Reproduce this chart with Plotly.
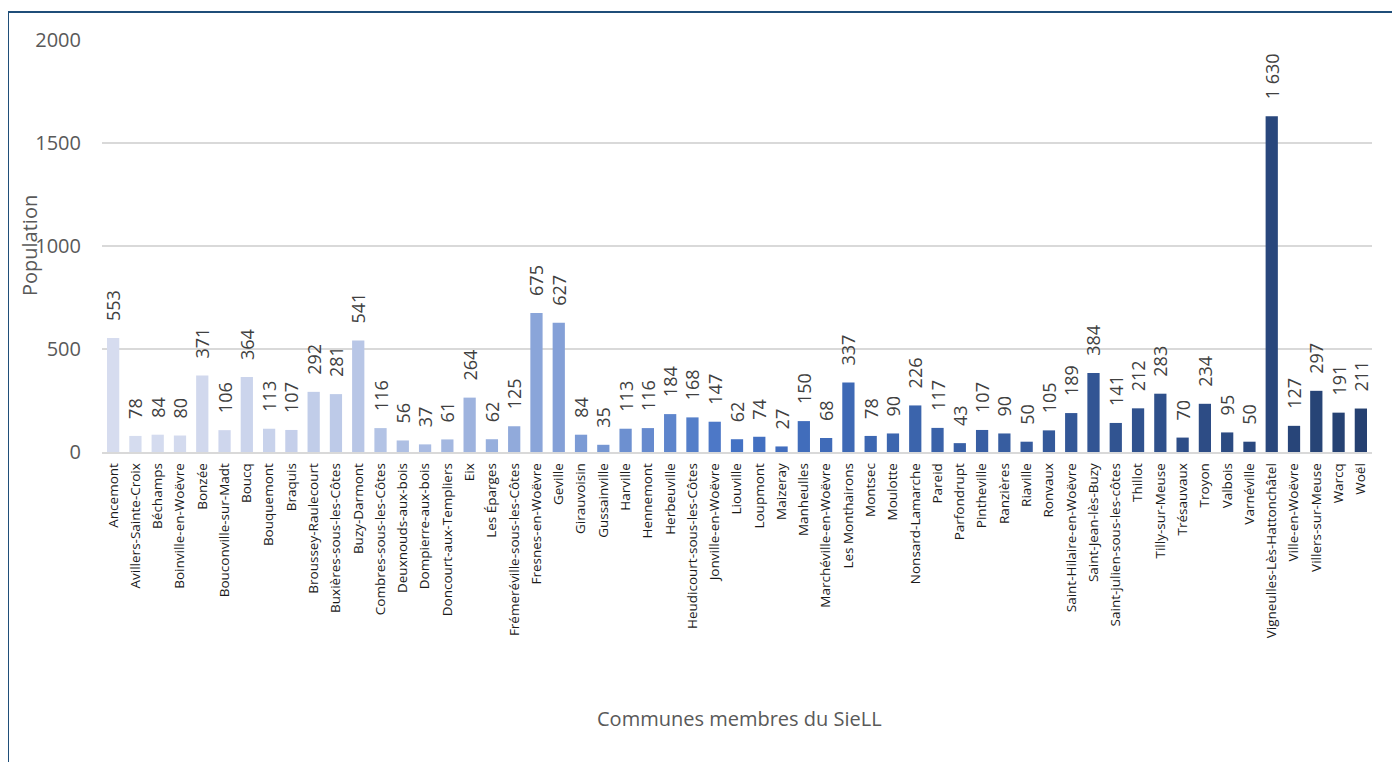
import numpy as np
import plotly.graph_objects as go

communes = [
    "Ancemont", "Avillers-Sainte-Croix", "Béchamps", "Boinville-en-Woëvre", "Bonzée",
    "Bouconville-sur-Madt", "Boucq", "Bouquemont", "Braquis", "Broussey-Raulecourt",
    "Buxières-sous-les-Côtes", "Buzy-Darmont", "Combres-sous-les-Côtes", "Deuxnouds-aux-bois",
    "Dompierre-aux-bois", "Doncourt-aux-Templiers", "Eix", "Les Éparges",
    "Frémeréville-sous-les-Côtes", "Fresnes-en-Woëvre", "Geville", "Girauvoisin",
    "Gussainville", "Harville", "Hennemont", "Herbeuville", "Heudicourt-sous-les-Côtes",
    "Jonville-en-Woëvre", "Liouville", "Loupmont", "Maizeray", "Manheulles",
    "Marchéville-en-Woëvre", "Les Monthairons", "Montsec", "Moulotte", "Nonsard-Lamarche",
    "Pareid", "Parfondrupt", "Pintheville", "Ranzières", "Riaville", "Ronvaux",
    "Saint-Hilaire-en-Woëvre", "Saint-Jean-lès-Buzy", "Saint-julien-sous-les-côtes",
    "Thillot", "Tilly-sur-Meuse", "Trésauvaux", "Troyon", "Valbois", "Varnéville",
    "Vigneulles-Lès-Hattonchâtel", "Ville-en-Woëvre", "Villers-sur-Meuse", "Warcq", "Woël",
]
population = [
    553, 78, 84, 80, 371, 106, 364, 113, 107, 292,
    281, 541, 116, 56, 37, 61, 264, 62, 125, 675,
    627, 84, 35, 113, 116, 184, 168, 147, 62, 74,
    27, 150, 68, 337, 78, 90, 226, 117, 43, 107,
    90, 50, 105, 189, 384, 141, 212, 283, 70, 234,
    95, 50, 1630, 127, 297, 191, 211,
]
y_ticks = [0, 500, 1000, 1500, 2000]

def fmt(v):
    return f"{v:,}".replace(",", "\u00a0")

# leading non-breaking spaces give the gap between bar top and rotated label
labels = ["\u00a0\u00a0\u00a0" + fmt(v) for v in population]

# gradient colours (light -> mid blue -> dark navy), as Excel "vary colours by point"
light = np.array([214, 220, 239])
mid = np.array([68, 114, 196])
dark = np.array([37, 64, 112])
n = len(communes)
colors = []
half = (n - 1) / 2
for i in range(n):
    if i <= half:
        t = (i / half) ** 1.7
        c = light + (mid - light) * t
    else:
        t = (i - half) / half
        c = mid + (dark - mid) * t
    colors.append("rgb({},{},{})".format(*[int(round(x)) for x in c]))

fig = go.Figure(go.Bar(
    x=communes, y=population, marker=dict(color=colors, line=dict(width=0)),
    text=labels, textposition="outside", textangle=-90, constraintext="none",
    textfont=dict(size=18, color="#404040", family="Open Sans"),
    cliponaxis=False,
))

# the page has an 8px body margin: figure origin sits at (8, 8) in the window
OFF = 8
L, R, T, B = 102 - OFF, 28, 40 - OFF, 310
W, H = 1400 - OFF, 762 - OFF
pw = W - L - R
ph = H - T - B
px0 = L + OFF          # window x of plot left
py0 = T + OFF + ph     # window y of plot bottom

fig.update_layout(
    width=W, height=H,
    margin=dict(l=L, r=R, t=T, b=B),
    plot_bgcolor="white", paper_bgcolor="white",
    bargap=0.45,
    showlegend=False,
    font=dict(family="Open Sans", color="#595959"),
    xaxis=dict(
        tickangle=-90, tickfont=dict(size=13.5, color="#1a1a1a", family="Open Sans"),
        showgrid=False, showline=True, linecolor="#d9d9d9", linewidth=1.5, ticks="",
        range=[-0.5, n - 0.5], ticklabelstandoff=4,
    ),
    yaxis=dict(
        range=[0, 2000], tickvals=y_ticks, ticktext=[str(v) for v in y_ticks],
        tickfont=dict(size=20, color="#595959"),
        showgrid=True, gridcolor="#d9d9d9", gridwidth=1.5, zeroline=False,
        ticklabelstandoff=20,
    ),
    shapes=[dict(
        type="rect", xref="paper", yref="paper",
        x0=(8 - px0) / pw, x1=(1396 - px0) / pw,
        y0=(py0 - 790) / ph, y1=(py0 - 12) / ph,
        line=dict(color="#1f4e79", width=2), fillcolor="rgba(0,0,0,0)", layer="below",
    )],
    annotations=[
        dict(text="Population", xref="paper", yref="paper",
             x=(29 - px0) / pw, y=0.5, textangle=-90, showarrow=False,
             font=dict(size=20, color="#595959"), xanchor="center", yanchor="middle"),
        dict(text="Communes membres du SieLL", xref="paper", yref="paper",
             x=(740 - px0) / pw, y=(py0 - 718) / ph, showarrow=False,
             font=dict(size=20, color="#595959"), xanchor="center", yanchor="middle"),
    ],
)

fig.write_html("out.html")
